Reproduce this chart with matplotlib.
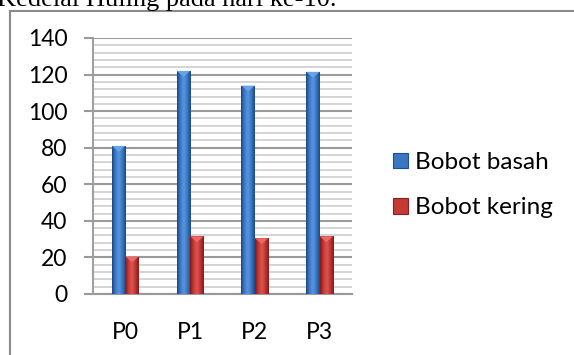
import matplotlib
matplotlib.use("Agg")
import matplotlib.pyplot as plt
import numpy as np
from matplotlib.colors import LinearSegmentedColormap
from matplotlib.patches import Polygon, Ellipse, Rectangle
from matplotlib.lines import Line2D

# Data
categories = ["P0", "P1", "P2", "P3"]
bobot_basah = [81, 122, 114, 121.5]
bobot_kering = [20.5, 31.5, 30.5, 31.5]
series_names = ["Bobot basah", "Bobot kering"]
y_ticks = [0, 20, 40, 60, 80, 100, 120, 140]
title_text = "Kedelai Huling pada hari ke-10."

W, H = 574, 355
fig = plt.figure(figsize=(W / 100, H / 100), dpi=100)

FONT = "Lato"

# page frame and the caption line running above it
frame_col = "#8a8a8a"
fig.add_artist(Line2D([10 / W, 10 / W], [0, 1 - 11 / H], color=frame_col, lw=1.5,
                      transform=fig.transFigure))
fig.add_artist(Line2D([10 / W, 1], [1 - 11 / H, 1 - 11 / H], color=frame_col, lw=1.5,
                      transform=fig.transFigure))
fig.text(-3 / W, 1 - 6 / H, title_text, family="Liberation Serif", fontsize=19,
         va="baseline", ha="left", color="black")

ax = fig.add_axes([93 / W, 1 - 294 / H, 259 / W, 256 / H])

x = np.arange(len(categories))
bw = 0.208

blue_cmap = LinearSegmentedColormap.from_list(
    "b", ["#1b4480", "#3d7cc9", "#5a95dd", "#3a76c2", "#1d4785"])
red_cmap = LinearSegmentedColormap.from_list(
    "r", ["#7e1a1a", "#c33a36", "#dd5450", "#bf3531", "#7f1c1c"])
cap_cols = ["#6aa7ea", "#ee6d68"]

grad = np.linspace(0, 1, 64).reshape(1, -1)

bars_b = ax.bar(x - bw / 2, bobot_basah, bw, color="#3a76c2", zorder=3,
                label=series_names[0])
bars_r = ax.bar(x + bw / 2, bobot_kering, bw, color="#c33a36", zorder=3,
                label=series_names[1])

for bars, cmap, capc in [(bars_b, blue_cmap, cap_cols[0]), (bars_r, red_cmap, cap_cols[1])]:
    for b in bars:
        x0, w, h = b.get_x(), b.get_width(), b.get_height()
        im = ax.imshow(grad, extent=[x0, x0 + w, 0, h], cmap=cmap, aspect="auto",
                       zorder=4, interpolation="bicubic")
        im.set_clip_path(b)
        # bevelled cap on top of the bar
        ch = 3.2
        cap = Polygon([[x0, h], [x0 + w, h], [x0 + w / 2, h - ch]], closed=True,
                      facecolor=capc, edgecolor="none", alpha=0.9, zorder=5)
        ax.add_patch(cap)
        # soft floor shadow
        sh = Ellipse((x0 + w / 2, 0), w * 1.25, 2.4, facecolor="#9a9a9a",
                     edgecolor="none", alpha=0.45, zorder=2)
        ax.add_patch(sh)

ax.set_xlim(-0.5, len(categories) - 0.5)
ax.set_ylim(0, 140)

# gridlines
ax.set_yticks(y_ticks)
ax.set_yticks(np.arange(0, 141, 4), minor=True)
ax.grid(axis="y", which="minor", color="#c9c9c9", lw=1.1, zorder=0)
ax.grid(axis="y", which="major", color="#9a9a9a", lw=1.5, zorder=1)
ax.set_axisbelow(True)

for s in ["top", "right"]:
    ax.spines[s].set_visible(False)
ax.spines["left"].set_color("#a0a0a0")
ax.spines["left"].set_linewidth(1.5)
ax.spines["bottom"].set_color("#9a9a9a")
ax.spines["bottom"].set_linewidth(1.5)
ax.spines["bottom"].set_zorder(1)

ax.set_xticks(x)
ax.set_xticklabels(categories)
ax.tick_params(axis="y", which="major", length=6.5, width=1.5, color="#9a9a9a",
               pad=12, labelsize=16.5)
ax.tick_params(axis="y", which="minor", length=0)
ax.tick_params(axis="x", length=0, pad=20, labelsize=16.5)
for lab in ax.get_xticklabels() + ax.get_yticklabels():
    lab.set_family(FONT)

# legend
handles = [Rectangle((0, 0), 1, 1, facecolor="#3a76c2", edgecolor="#1f4f90", lw=0.8),
           Rectangle((0, 0), 1, 1, facecolor="#c33a36", edgecolor="#8a2020", lw=0.8)]
leg = fig.legend(handles, series_names, loc="upper left",
                 bbox_to_anchor=(393 / W, 1 - 152 / H), frameon=False,
                 prop={"family": FONT, "size": 17.5}, handlelength=0.62,
                 handleheight=0.62, handletextpad=0.3, labelspacing=1.0,
                 borderpad=0, borderaxespad=0)

fig.savefig("out.png", dpi=100)
